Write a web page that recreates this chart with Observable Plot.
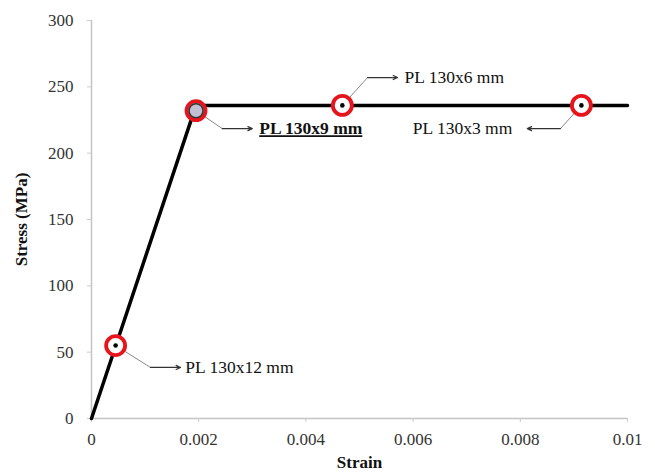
<!DOCTYPE html>
<html><head><meta charset="utf-8">
<script src="https://cdn.jsdelivr.net/npm/d3@7"></script>
<script src="https://cdn.jsdelivr.net/npm/@observablehq/plot@0.6"></script>
<style>body{margin:0;background:#fff;} svg{display:block;}</style>
</head><body><div id="chart"></div>
<script>
// curve (bilinear stress-strain)
const curveStrain = [0, 0.00195, 0.01];
const curveStress = [0, 236, 236];
// markers / annotations
const labels = ["PL 130x12 mm", "PL 130x9 mm", "PL 130x6 mm", "PL 130x3 mm"];
const markerStrain = [0.00045, 0.00195, 0.00468, 0.00914];
const markerStress = [55, 232, 236, 236];
const bendStrain = [0.0011, 0.00244, 0.00515, 0.00875];
const bendStress = [38.5, 218.5, 257, 218.5];
const tipStrain = [0.00166, 0.003, 0.00571, 0.00813];
const textStrain = [0.00175, 0.00313, 0.00584, 0.00785];
const xTicks = [0, 0.002, 0.004, 0.006, 0.008, 0.01];
const xTickLabels = ["0", "0.002", "0.004", "0.006", "0.008", "0.01"];
const yTicks = [0, 50, 100, 150, 200, 250, 300];

const curve = curveStrain.map((x, i) => ({x, y: curveStress[i]}));
const ann = labels.map((l, i) => ({
  label: l, mx: markerStrain[i], my: markerStress[i],
  bx: bendStrain[i], by: bendStress[i], tx: tipStrain[i], lx: textStrain[i],
  anchor: tipStrain[i] < bendStrain[i] ? "end" : "start",
  bold: l === "PL 130x9 mm"
}));
const plain = ann.filter(d => !d.bold);
const boldA = ann.filter(d => d.bold);

const chart = Plot.plot({
  width: 655, height: 475,
  marginLeft: 91, marginRight: 28, marginTop: 20, marginBottom: 57,
  style: {fontFamily: "'Liberation Serif', 'Times New Roman', serif", fontSize: "16px", color: "#222", background: "#fff"},
  x: {domain: [0, 0.01]},
  y: {domain: [0, 300]},
  marks: [
    Plot.ruleX([0], {stroke: "#c4c4c4", strokeWidth: 1.5}),
    Plot.ruleY([0], {stroke: "#c4c4c4", strokeWidth: 1.5}),
    Plot.axisX({ticks: xTicks, tickFormat: (d) => xTickLabels[xTicks.indexOf(d)], tickSize: 4, tickPadding: 10, stroke: "#ccc",
      fontSize: 17, fill: "#333", label: null}),
    Plot.axisY({ticks: yTicks, tickSize: 4, tickPadding: 14, stroke: "#ccc", fontSize: 17, fill: "#333", label: null}),
    Plot.axisX({ticks: [], label: "Strain", labelAnchor: "center", labelArrow: "none", labelOffset: 49, fontSize: 17, fontWeight: "bold", fill: "#111"}),
    Plot.axisY({ticks: [], label: "Stress (MPa)", labelAnchor: "center", labelArrow: "none", labelOffset: 77, fontSize: 17, fontWeight: "bold", fill: "#111"}),
    Plot.line(curve, {x: "x", y: "y", stroke: "#000", strokeWidth: 3.5}),
    Plot.link(ann, {x1: "mx", y1: "my", x2: "bx", y2: "by", stroke: "#888", strokeWidth: 1}),
    Plot.arrow(ann, {x1: "bx", y1: "by", x2: "tx", y2: "by", stroke: "#333", strokeWidth: 1.2, headLength: 6, headAngle: 50}),
    Plot.text(plain.filter(d => d.anchor === "start"), {x: "lx", y: "by", text: "label", textAnchor: "start", fill: "#111", fontSize: 17.5}),
    Plot.text(plain.filter(d => d.anchor === "end"), {x: "lx", y: "by", text: "label", textAnchor: "end", fill: "#111", fontSize: 17.5}),
    Plot.text(boldA, {x: "lx", y: "by", text: "label", textAnchor: "start", fill: "#111", fontSize: 17.5, fontWeight: "bold"}),
    Plot.dot(ann, {x: "mx", y: "my", r: 9.5, fill: d => d.bold ? "#c2c0d2" : "#fff", stroke: "#e8141c", strokeWidth: 3.8}),
    Plot.dot(boldA, {x: "mx", y: "my", r: 7, fill: "none", stroke: "#333", strokeWidth: 1.5}),
    Plot.dot(plain, {x: "mx", y: "my", r: 2.3, fill: "#000"})
  ]
});
d3.select(chart).selectAll("text").filter(function() { return this.textContent === "PL 130x9 mm"; })
  .style("text-decoration", "underline");
document.getElementById("chart").appendChild(chart);
</script>
</body></html>
